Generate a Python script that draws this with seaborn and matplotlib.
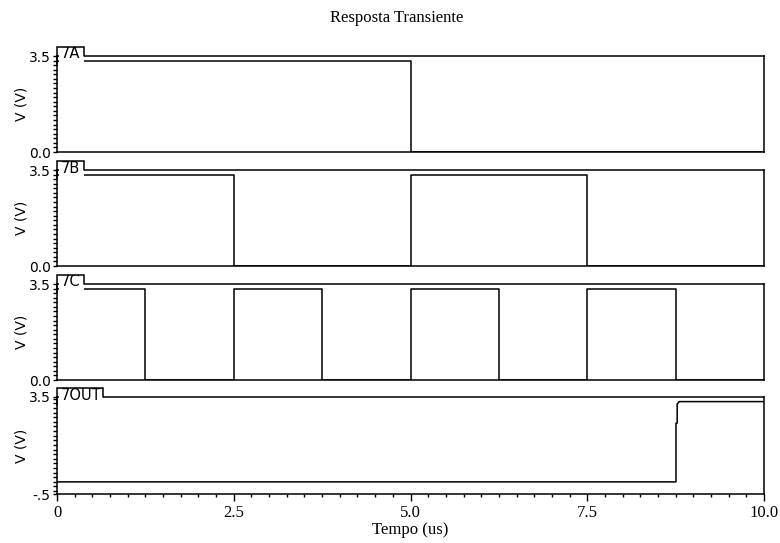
import matplotlib
matplotlib.use("Agg")
import matplotlib.pyplot as plt
from matplotlib.patches import Rectangle
from matplotlib.ticker import FixedLocator, MultipleLocator
import pandas as pd
import seaborn as sns

# Transient response of a 3-input NOR gate: time in us, voltage in V
time_a = [0.0, 5.0, 10.0]
volt_a = [3.3, 0.0, 0.0]

time_b = [0.0, 2.5, 5.0, 7.5, 10.0]
volt_b = [3.3, 0.0, 3.3, 0.0, 0.0]

time_c = [0.0, 1.25, 2.5, 3.75, 5.0, 6.25, 7.5, 8.75, 10.0]
volt_c = [3.3, 0.0, 3.3, 0.0, 3.3, 0.0, 3.3, 0.0, 0.0]

time_out = [0.0, 8.755, 8.755, 8.772, 8.772, 8.80, 10.0]
volt_out = [0.0, 0.0, 2.42, 2.42, 3.21, 3.31, 3.31]

trace_names = ["7A", "7B", "7C", "7OUT"]
y_limits = [(0.0, 3.5), (0.0, 3.5), (0.0, 3.5), (-0.5, 3.5)]
y_tick_labels = [["0.0", "3.5"], ["0.0", "3.5"], ["0.0", "3.5"], ["-.5", "3.5"]]
x_ticks = [0.0, 2.5, 5.0, 7.5, 10.0]
x_tick_labels = ["0", "2.5", "5.0", "7.5", "10.0"]
title_text = "Resposta Transiente"
x_label = "Tempo (us)"
y_label = "V (V)"

sns.set_theme(style="ticks")
plt.rcParams["font.family"] = ["DejaVu Sans"]
plt.rcParams["axes.linewidth"] = 1.1

W, H = 780, 543
fig = plt.figure(figsize=(W / 100, H / 100), dpi=100)
fig.patch.set_facecolor("white")

ax_left, ax_right = 57, 764
tops = [56, 170, 284, 397]
bottoms = [152, 266, 380, 494]
tab_widths = [27, 27, 27, 46]
tab_height = 9.5

traces = [
    (time_a, volt_a, "steps-post"),
    (time_b, volt_b, "steps-post"),
    (time_c, volt_c, "steps-post"),
    (time_out, volt_out, "default"),
]

span_px = ax_right - ax_left
for i, (t, v, style) in enumerate(traces):
    hpx = bottoms[i] - tops[i]
    ax = fig.add_axes([ax_left / W, 1 - bottoms[i] / H, span_px / W, hpx / H])
    df = pd.DataFrame({"t": t, "v": v})
    sns.lineplot(data=df, x="t", y="v", ax=ax, estimator=None, sort=False,
                 color="black", linewidth=1.1, drawstyle=style)
    ax.set_xlim(0, 10)
    ax.set_ylim(*y_limits[i])
    ax.set_xlabel("")
    ax.set_ylabel(y_label, fontsize=10, color="black")
    ax.yaxis.set_label_coords(-0.040, 0.5)
    for sp in ax.spines.values():
        sp.set_visible(True)
        sp.set_color("black")
        sp.set_linewidth(1.1)

    lo, hi = y_limits[i]
    ax.yaxis.set_major_locator(FixedLocator([lo, hi]))
    ax.set_yticklabels(y_tick_labels[i])
    ax.yaxis.set_minor_locator(MultipleLocator((hi - lo) / 21))
    ax.tick_params(axis="y", which="both", direction="out", length=3,
                   width=1, color="black", labelsize=10, labelcolor="black",
                   pad=1.5, left=True, right=False)

    if i < 3:
        ax.tick_params(axis="x", which="both", bottom=False, labelbottom=False)
    else:
        ax.xaxis.set_major_locator(FixedLocator(x_ticks))
        ax.set_xticklabels(x_tick_labels, family="Liberation Serif", fontsize=12)
        ax.xaxis.set_minor_locator(MultipleLocator(0.25))
        ax.tick_params(axis="x", which="major", direction="out", length=5,
                       width=1, color="black", labelcolor="black", pad=3)
        ax.tick_params(axis="x", which="minor", direction="out", length=2.5,
                       width=1, color="black")
        ax.set_xlabel(x_label, family="Liberation Serif", fontsize=12,
                      color="black", labelpad=1)

    # trace name tab sitting on the top edge of the panel
    wf = tab_widths[i] / span_px
    hf = tab_height / hpx
    below = 8 / hpx
    tab = Rectangle((0.003, 1 - below), wf - 0.003, hf + below,
                    transform=ax.transAxes, facecolor="white",
                    edgecolor="none", zorder=3, clip_on=False)
    ax.add_patch(tab)
    ax.plot([0, 0, wf, wf], [1 - below, 1 + hf, 1 + hf, 1],
            transform=ax.transAxes, color="black", linewidth=1.1,
            clip_on=False, zorder=4, solid_joinstyle="miter")
    name = ax.text(4 / span_px, 1 - 2.5 / hpx, trace_names[i],
                   transform=ax.transAxes, fontsize=10.5, color="black",
                   ha="left", va="baseline", zorder=5, clip_on=True)
    name.set_clip_path(tab)

fig.text(396.5 / W, 1 - 18 / H, title_text, family="Liberation Serif",
         fontsize=12, ha="center", va="center", color="black")

fig.savefig("out.png", dpi=100, facecolor="white")
